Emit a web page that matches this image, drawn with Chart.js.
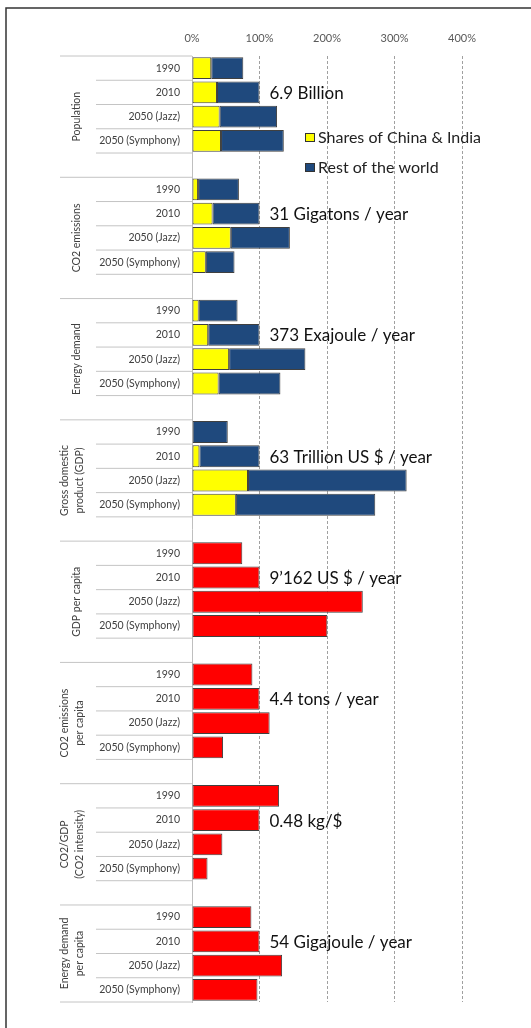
<!DOCTYPE html>
<html>
<head>
<meta charset="utf-8">
<script src="https://cdn.jsdelivr.net/npm/chart.js@4/dist/chart.umd.min.js"></script>
<style>
  html, body { margin: 0; padding: 0; background: #fff; }
  #chart { display: block; }
</style>
</head>
<body>
<canvas id="chart" width="531" height="1028"></canvas>
<script>
// values are % of the 2010 world value
const years = ['1990', '2010', '2050 (Jazz)', '2050 (Symphony)'];
const groupNames = [
    ['Population'], ['CO2 emissions'], ['Energy demand'], ['Gross domestic', 'product (GDP)'],
    ['GDP per capita'], ['CO2 emissions', 'per capita'], ['CO2/GDP', '(CO2 intensity)'], ['Energy demand', 'per capita']
];
const notes = ['6.9 Billion', '31 Gigatons / year', '373 Exajoule / year', '63 Trillion US $ / year',
    '9\u2019162 US $ / year', '4.4 tons / year', '0.48 kg/$', '54 Gigajoule / year'];
const legendLabels = ['Shares of China & India', 'Rest of the world'];
const xTicks = [0, 100, 200, 300, 400];

const popChina = [28.5, 37, 41, 43];
const popRest = [47.5, 63, 85, 93];
const co2China = [9, 30.5, 57.5, 20.5];
const co2Rest = [60.5, 69.5, 87.5, 42.5];
const energyChina = [10, 24, 55, 39.5];
const energyRest = [57.5, 76, 113, 91.5];
const gdpChina = [1, 11, 83, 65];
const gdpRest = [52, 89, 235, 206.5];

const gdpCapita = [74.5, 100, 253, 200.5];
const co2Capita = [89.5, 100, 115, 46];
const co2Intensity = [129, 100, 45, 23];
const energyCapita = [88, 100, 133.5, 97];

const FONT = 'Lato, "Open Sans", sans-serif';

const splitGroups = [[popChina, popRest], [co2China, co2Rest], [energyChina, energyRest], [gdpChina, gdpRest]];
const worldGroups = [gdpCapita, co2Capita, co2Intensity, energyCapita];

const rowLabels = [], chinaData = [], restData = [], worldData = [];
groupNames.forEach((name, g) => {
    years.forEach((yr, k) => {
        rowLabels.push(yr);
        if (g < splitGroups.length) {
            chinaData.push(splitGroups[g][0][k]);
            restData.push(splitGroups[g][1][k]);
            worldData.push(null);
        } else {
            chinaData.push(null);
            restData.push(null);
            worldData.push(worldGroups[g - splitGroups.length][k]);
        }
    });
    if (g < groupNames.length - 1) {
        rowLabels.push('');
        chinaData.push(null); restData.push(null); worldData.push(null);
    }
});

const decorPlugin = {
    id: 'decor',
    beforeDraw(chart) {
        const ctx = chart.ctx;
        ctx.save();
        ctx.fillStyle = '#fff';
        ctx.fillRect(0, 0, chart.width, chart.height);
        ctx.restore();
    },
    afterDraw(chart) {
        const ctx = chart.ctx;
        const xs = chart.scales.x, ys = chart.scales.y;
        const left = chart.chartArea.left;
        const rowH = ys.getPixelForValue(1) - ys.getPixelForValue(0);
        ctx.save();

        // frame (top + left)
        ctx.strokeStyle = '#333';
        ctx.lineWidth = 1.5;
        ctx.beginPath();
        ctx.moveTo(6, 1028); ctx.lineTo(6, 8); ctx.lineTo(531, 8);
        ctx.stroke();

        // multi-level category lines
        ctx.strokeStyle = '#c4c4c4';
        ctx.lineWidth = 1;
        groupNames.forEach((name, g) => {
            const first = g * 5;
            const top = ys.getPixelForValue(first) - rowH / 2;
            ctx.beginPath();
            ctx.moveTo(60, top); ctx.lineTo(left, top);
            ctx.stroke();
            for (let k = 0; k < 4; k++) {
                const yb = ys.getPixelForValue(first + k) + rowH / 2;
                ctx.beginPath();
                ctx.moveTo(g === groupNames.length - 1 && k === 3 ? 60 : 96, yb); ctx.lineTo(left, yb);
                ctx.stroke();
            }
            // group label, rotated
            const last = g < groupNames.length - 1 ? first + 4 : first + 3;
            const cy = (ys.getPixelForValue(first) + ys.getPixelForValue(last)) / 2;
            const n = name.length;
            ctx.fillStyle = '#404040';
            ctx.font = '10.5px ' + FONT;
            ctx.textAlign = 'center';
            ctx.textBaseline = 'middle';
            name.forEach((line, i) => {
                const cx = 77 + 3 * (n - 1) - (n - 1 - i) * 15;
                ctx.save();
                ctx.translate(cx, cy);
                ctx.rotate(-Math.PI / 2);
                ctx.fillText(line, 0, 0);
                ctx.restore();
            });

            // note next to the 2010 bar
            ctx.fillStyle = '#111';
            ctx.font = '17px ' + FONT;
            ctx.textAlign = 'left';
            ctx.fillText(notes[g], xs.getPixelForValue(100) + 10, ys.getPixelForValue(first + 1) + 1);
        });

        // legend
        const colors = ['#ffff00', '#1f497d'];
        legendLabels.forEach((txt, i) => {
            const ly = 138 + i * 30;
            ctx.fillStyle = colors[i];
            ctx.fillRect(305, ly - 5, 10, 9);
            ctx.strokeStyle = '#333';
            ctx.strokeRect(305.5, ly - 4.5, 9, 8);
            ctx.fillStyle = '#222';
            ctx.font = '16px ' + FONT;
            ctx.textAlign = 'left';
            ctx.textBaseline = 'middle';
            ctx.fillText(txt, 318, ly);
        });
        ctx.restore();
    }
};

const barStyle = { borderColor: '#404040', borderWidth: 1, borderSkipped: false, barPercentage: 0.9, categoryPercentage: 1 };

new Chart(document.getElementById('chart'), {
    type: 'bar',
    data: {
        labels: rowLabels,
        datasets: [
            { label: legendLabels[0], data: chinaData, backgroundColor: '#ffff00', ...barStyle },
            { label: legendLabels[1], data: restData, backgroundColor: '#1f497d', ...barStyle },
            { label: 'World', data: worldData, backgroundColor: '#ff0000', ...barStyle }
        ]
    },
    options: {
        indexAxis: 'y',
        responsive: false,
        devicePixelRatio: 1,
        animation: false,
        layout: { padding: { top: 32, right: 69, bottom: 26, left: 0 } },
        plugins: { legend: { display: false }, tooltip: { enabled: false } },
        scales: {
            x: {
                position: 'top',
                stacked: true,
                min: xTicks[0],
                max: xTicks[xTicks.length - 1],
                afterBuildTicks: s => { s.ticks = xTicks.map(v => ({ value: v })); },
                afterFit: s => { s.height = 24; },
                ticks: { callback: v => v + '%', color: '#595959', font: { size: 11, family: FONT }, padding: 11, maxRotation: 0 },
                grid: { drawTicks: false, color: c => c.tick && c.tick.value === 0 ? 'rgba(0,0,0,0)' : '#a0a0a0', borderDash: [3, 2] },
                border: { display: false, dash: [3, 2] }
            },
            y: {
                stacked: true,
                afterFit: s => { s.width = 192; },
                ticks: { autoSkip: false, color: '#404040', font: { size: 10.5, family: FONT }, padding: 12 },
                grid: { display: false, drawTicks: false },
                border: { display: true, color: '#bfbfbf', width: 1 }
            }
        }
    },
    plugins: [decorPlugin]
});
</script>
</body>
</html>
